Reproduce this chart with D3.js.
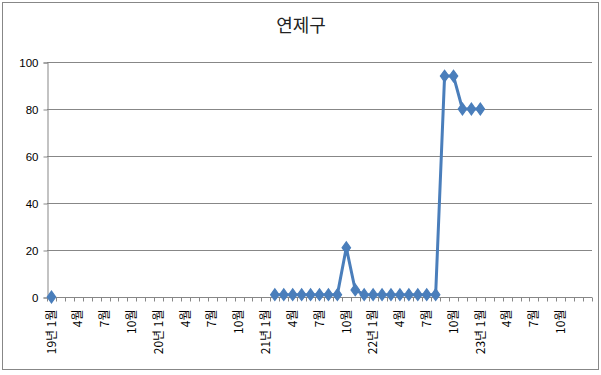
<!DOCTYPE html>
<html><head><meta charset="utf-8">
<script src="https://cdn.jsdelivr.net/npm/d3@7"></script>
<style>body{margin:0;background:#fff}svg text{font-family:"Liberation Sans","Noto Sans CJK KR",sans-serif}</style>
</head><body><svg id="c" width="601" height="375"></svg>
<script>
const title = "연제구";
const years = ["19", "20", "21", "22", "23"];
const months = [1,2,3,4,5,6,7,8,9,10,11,12];
// 61 categories: 19년 1월 .. 23년 12월 plus one blank trailing category
const categories = [];
years.forEach(yy => months.forEach(m => categories.push(m === 1 ? yy + "년 " + m + "월" : m + "월")));
categories.push("");
const values = [
  0, null, null, null, null, null, null, null, null, null, null, null,   // 19
  null, null, null, null, null, null, null, null, null, null, null, null, // 20
  null, 1, 1, 1, 1, 1, 1, 1, 1, 21, 3, 1,                                 // 21
  1, 1, 1, 1, 1, 1, 1, 1, 94, 94, 80, 80,                                 // 22
  80, null, null, null, null, null, null, null, null, null, null, null,   // 23
  null
];
const yTicks = [0, 20, 40, 60, 80, 100];

(function () {
const svg = d3.select("#c");
svg.append("rect").attr("x", 2.5).attr("y", 2.5).attr("width", 596).attr("height", 367)
  .attr("fill", "#fff").attr("stroke", "#878787");

const pL = 47, pR = 592, pT = 62, pB = 297;
const x = d3.scaleBand().domain(d3.range(categories.length)).range([pL, pR]);
const y = d3.scaleLinear().domain([0, 100]).range([pB, pT]);

svg.append("text").attr("x", 301).attr("y", 32).attr("text-anchor", "middle")
  .style("font-family", "'Noto Sans CJK KR'").attr("font-size", 18).attr("fill", "#222").text(title);

// gridlines
svg.append("g").selectAll("line").data(yTicks.filter(d => d > 0)).join("line")
  .attr("x1", pL).attr("x2", pR).attr("y1", d => y(d) + 0.5).attr("y2", d => y(d) + 0.5)
  .attr("stroke", "#878787");

// y axis
const ya = svg.append("g").attr("transform", `translate(${pL + 0.5},0.5)`)
  .call(d3.axisLeft(y).tickValues(yTicks).tickSize(4).tickPadding(5));
ya.select(".domain").attr("stroke", "#878787");
ya.selectAll(".tick line").attr("stroke", "#878787");
ya.selectAll("text").attr("font-size", 11.5).attr("fill", "#000")
  .style("font-family", "'Liberation Sans'");

// x axis
const xa = svg.append("g").attr("transform", `translate(0,${pB + 0.5})`);
xa.append("line").attr("x1", pL).attr("x2", pR).attr("stroke", "#878787");
xa.selectAll(".t").data(d3.range(categories.length + 1)).join("line").attr("class", "t")
  .attr("x1", i => Math.round(pL + i * x.step()) + 0.5).attr("x2", i => Math.round(pL + i * x.step()) + 0.5)
  .attr("y1", 0).attr("y2", 4).attr("stroke", "#878787");
xa.selectAll(".lb").data(categories.map((c, i) => ({c, i})).filter(d => d.i % 3 === 0 && d.c))
  .join("text").attr("class", "lb")
  .attr("transform", d => `translate(${x(d.i) + x.bandwidth() / 2},12) rotate(-90)`)
  .attr("text-anchor", "end").attr("dy", "0.35em").attr("font-size", 12).attr("fill", "#000")
  .style("font-family", "'Noto Sans CJK KR'")
  .text(d => d.c);

// series
const pts = values.map((v, i) => ({i, v}));
const line = d3.line().defined(d => d.v !== null)
  .x(d => x(d.i) + x.bandwidth() / 2).y(d => y(d.v));
svg.append("path").datum(pts).attr("d", line).attr("fill", "none")
  .attr("stroke", "#4A7EBB").attr("stroke-width", 3).attr("stroke-linejoin", "round");
const diamond = d3.symbol().type(d3.symbolDiamond).size(40);
svg.append("g").selectAll("path").data(pts.filter(d => d.v !== null)).join("path")
  .attr("d", diamond)
  .attr("transform", d => `translate(${x(d.i) + x.bandwidth() / 2},${y(d.v)}) scale(1.25,1)`)
  .attr("fill", "#4A7EBB").attr("stroke", "#4A7EBB").attr("stroke-width", 1);
})();
</script></body></html>
